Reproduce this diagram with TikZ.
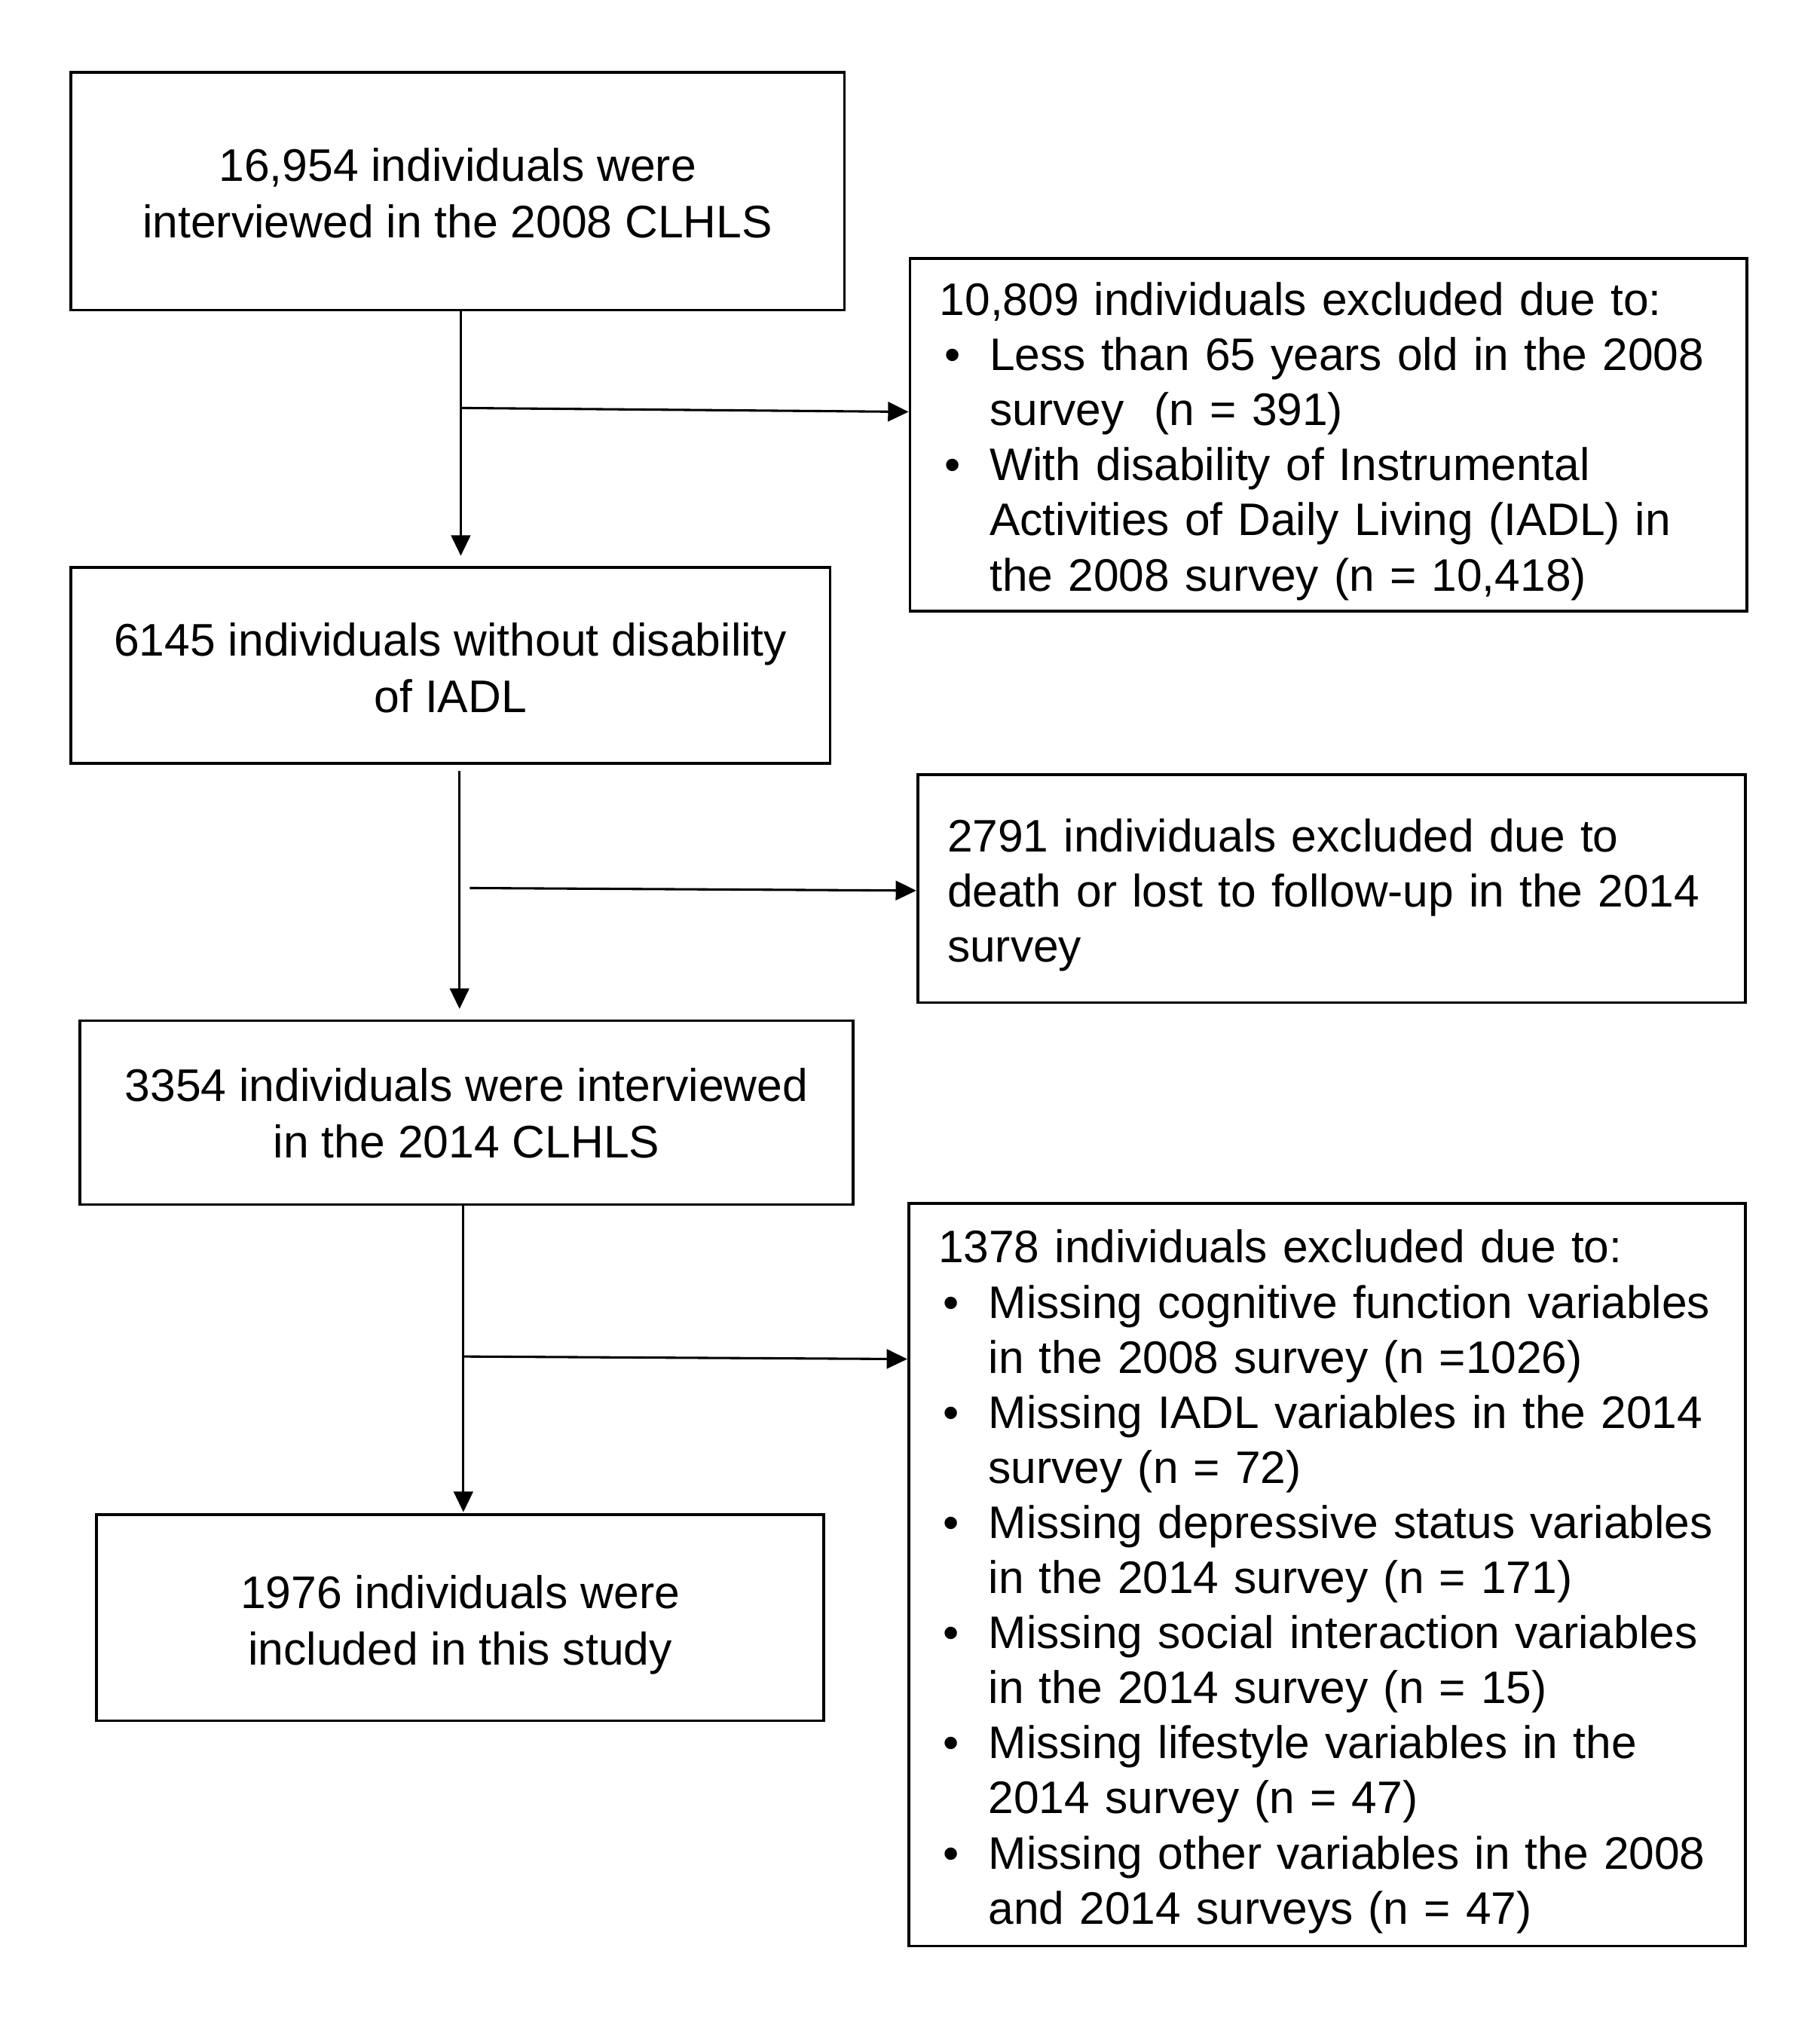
\documentclass[tikz,border=0pt]{standalone}
\usepackage{fontspec}
\setmainfont{Liberation Sans}
\usetikzlibrary{arrows.meta}
\newcommand\bulx{\makebox[39pt][l]{\hspace{4pt}•}}
\newcommand\indx{\hspace*{39pt}}
\newcommand\dnbox[2]{\raisebox{-#1}[\height][\depth]{#2}}
\begin{document}
\begin{tikzpicture}[x=1pt,y=-1pt,
  box/.style={draw, line width=2.2pt, inner sep=0pt},
  cbox/.style={box, align=center, font=\fontsize{35.5}{44}\selectfont},
  ebox/.style={box, inner xsep=23pt, align=left, font=\fontsize{35.4}{42.8}\selectfont},
  arr/.style={line width=1.8pt, -{Triangle[length=16pt,width=15pt]}}]
\useasboundingbox (0,0) rectangle (1414,1568);

% main column
\node[cbox, minimum width=601pt, minimum height=185pt] (b1) at (355.5,148.5)
  {\dnbox{5.5pt}{\begin{tabular}{@{}c@{}}16,954 individuals were\\interviewed in the 2008 CLHLS\end{tabular}}};
\node[cbox, minimum width=590pt, minimum height=152pt] (b2) at (350,517)
  {\dnbox{6pt}{\begin{tabular}{@{}c@{}}6145 individuals without disability\\of IADL\end{tabular}}};
\node[cbox, minimum width=601pt, minimum height=143pt] (b3) at (362.5,864.5)
  {\dnbox{4.5pt}{\begin{tabular}{@{}c@{}}3354 individuals were interviewed\\in the 2014 CLHLS\end{tabular}}};
\node[cbox, minimum width=565pt, minimum height=160pt] (b4) at (357.5,1257)
  {\dnbox{6pt}{\begin{tabular}{@{}c@{}}1976 individuals were\\included in this study\end{tabular}}};

% exclusion boxes
\node[ebox, text width=604pt, minimum width=650pt, minimum height=274pt] (e1) at (1032,338)
  {\dnbox{5.5pt}{\begin{tabular}{@{}l@{}}
  10,809 individuals excluded due to:\\
  \bulx Less than 65 years old in the 2008\\
  \indx survey\ \ (n = 391)\\
  \bulx With disability of Instrumental\\
  \indx Activities of Daily Living (IADL) in\\
  \indx the 2008 survey (n = 10,418)
  \end{tabular}}};
\node[ebox, text width=597pt, minimum width=643pt, minimum height=177pt] (e2) at (1034.5,690.5)
  {\dnbox{5.5pt}{\begin{tabular}{@{}l@{}}
  2791 individuals excluded due to\\
  death or lost to follow-up in the 2014\\
  survey
  \end{tabular}}};
\node[ebox, text width=604pt, minimum width=650pt, minimum height=577pt] (e3) at (1031,1223.5)
  {\dnbox{6pt}{\begin{tabular}{@{}l@{}}
  1378 individuals excluded due to:\\
  \bulx Missing cognitive function variables\\
  \indx in the 2008 survey (n =1026)\\
  \bulx Missing IADL variables in the 2014\\
  \indx survey (n = 72)\\
  \bulx Missing depressive status variables\\
  \indx in the 2014 survey (n = 171)\\
  \bulx Missing social interaction variables\\
  \indx in the 2014 survey (n = 15)\\
  \bulx Missing lifestyle variables in the\\
  \indx 2014 survey (n = 47)\\
  \bulx Missing other variables in the 2008\\
  \indx and 2014 surveys (n = 47)
  \end{tabular}}};

% junction coordinates
\coordinate (j1) at (358,317);
\coordinate (t1) at (0,320);
\coordinate (x2) at (357,0);
\coordinate (j2) at (365,690);
\coordinate (t2) at (0,692);
\coordinate (x3) at (360,0);
\coordinate (j3) at (360,1054);
\coordinate (t3) at (0,1056);

% connectors
\draw[arr, shorten >=8pt] (b1.south -| j1) -- (b2.north -| j1);
\draw[arr] (j1) -- (e1.west |- t1);
\draw[arr, shorten <=5pt, shorten >=8pt] (b2.south -| x2) -- (b3.north -| x2);
\draw[arr] (j2) -- (e2.west |- t2);
\draw[arr, shorten >=1pt] (b3.south -| x3) -- (b4.north -| x3);
\draw[arr] (j3) -- (e3.west |- t3);
\end{tikzpicture}
\end{document}
